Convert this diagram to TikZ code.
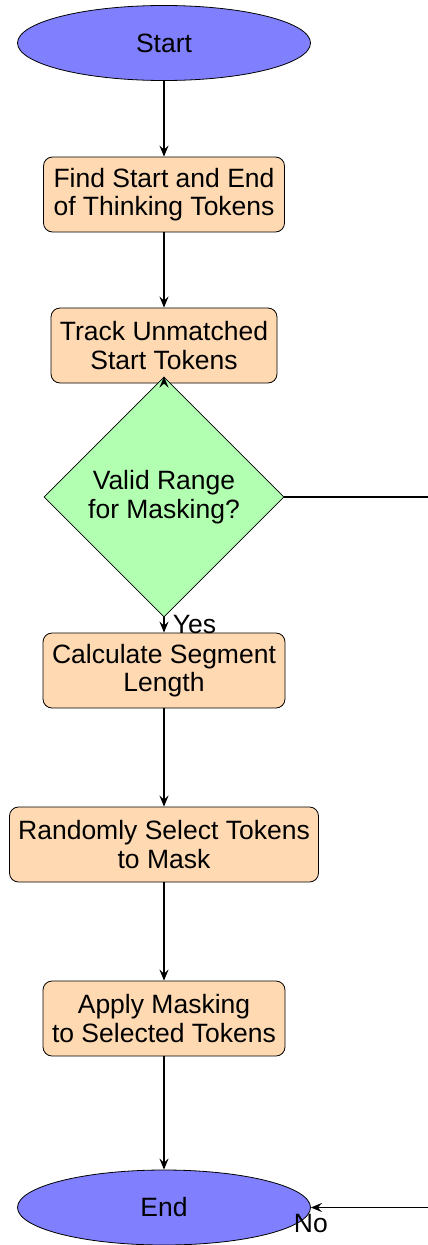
\documentclass[tikz,border=0pt]{standalone}
\usepackage{fontspec}
\setmainfont{Liberation Sans}
\usetikzlibrary{shapes.geometric,arrows.meta}
\begin{document}
\begin{tikzpicture}[x=1pt,y=-1pt,
  every node/.style={font=\fontsize{26.5}{28.5}\selectfont},
  term/.style={ellipse,draw=black,line width=0.8pt,fill=blue!50,minimum width=293pt,minimum height=75pt,inner sep=0pt},
  proc/.style={rectangle,rounded corners=9pt,draw=black,line width=0.8pt,fill=orange!30,minimum height=75pt,align=center,inner sep=0pt},
  dec/.style={diamond,draw=black,line width=0.8pt,fill=green!30,minimum width=240pt,minimum height=240pt,align=center,inner sep=0pt},
  arr/.style={-{Stealth[length=11pt,width=9pt,inset=4pt]},line width=1.8pt},
  lbl/.style={font=\fontsize{26.5}{28}\selectfont}]
\useasboundingbox (0,0) rectangle (428,1245);
\clip (0,0) rectangle (428,1245);
\node[term] (start) at (164,43) {Start};
\node[proc,minimum width=241pt] (find) at (164,194.5) {Find Start and End\\of Thinking Tokens};
\node[proc,minimum width=226pt] (track) at (164,345.5) {Track Unmatched\\Start Tokens};
\node[dec] (valid) at (164,497) {Valid Range\\for Masking?};
\node[proc,minimum width=242pt] (calc) at (164,670.5) {Calculate Segment\\Length};
\node[proc,minimum width=309pt] (rand) at (164,844.5) {Randomly Select Tokens\\to Mask};
\node[proc,minimum width=242pt] (apply) at (164,1018.5) {Apply Masking\\to Selected Tokens};
\node[term] (end) at (164,1207.5) {End};
\coordinate (r1) at (460,497);
\coordinate (r2) at (460,1207.5);
\draw[arr] (start) -- (find);
\draw[arr] (find) -- (track);
\draw[arr] (track) -- (valid);
\draw[arr] (valid) -- node[lbl,right,inner sep=8pt] (yes) {Yes} (calc);
\draw[arr] (calc) -- (rand);
\draw[arr] (rand) -- (apply);
\draw[arr] (apply) -- (end);
\draw[arr] (valid.east) -- (r1) -- (r2) -- (end.east) node[lbl,below,inner sep=6pt] (no) {No};
\end{tikzpicture}
\end{document}
